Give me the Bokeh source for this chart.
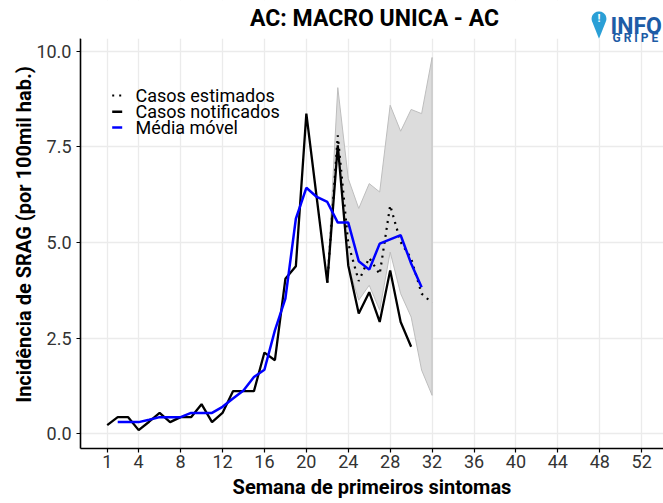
import numpy as np
from bokeh.plotting import figure
from bokeh.models import (Range1d, FixedTicker, PrintfTickFormatter, Label,
                          PolyAnnotation, BoxAnnotation, Arrow)
from bokeh.embed import file_html
from bokeh.resources import INLINE

# ---------------- data ----------------
weeks_notif = list(range(1, 31))
notificados = [0.22, 0.43, 0.43, 0.09, 0.31, 0.54, 0.30, 0.43, 0.43, 0.77,
               0.30, 0.54, 1.11, 1.11, 1.11, 2.12, 1.92, 4.05, 4.38, 8.37,
               6.15, 3.95, 7.54, 4.40, 3.14, 3.70, 2.92, 4.27, 2.92, 2.27]

weeks_mm = list(range(2, 32))
media_movel = [0.30, 0.30, 0.30, 0.36, 0.43, 0.43, 0.43, 0.54, 0.54, 0.54,
               0.70, 0.92, 1.13, 1.48, 1.67, 2.70, 3.53, 5.62, 6.43, 6.19,
               6.06, 5.52, 5.52, 4.51, 4.29, 4.97, 5.08, 5.19, 4.45, 3.83]

weeks_est = list(range(22, 33))
estimados = [3.95, 7.80, 4.97, 3.99, 4.60, 4.17, 5.97, 5.01, 4.58, 3.66, 3.42]
band_upper = [3.95, 9.05, 6.67, 5.89, 6.54, 6.32, 8.59, 7.91, 8.48, 8.37, 9.84]
band_lower = [3.95, 7.54, 4.40, 3.49, 3.88, 3.23, 4.75, 3.66, 3.05, 1.66, 1.00]

x_ticks = [1, 4, 8, 12, 16, 20, 24, 28, 32, 36, 40, 44, 48, 52]
y_ticks = [0, 2.5, 5, 7.5, 10]

title_text = "AC: MACRO UNICA - AC"
x_label = "Semana de primeiros sintomas"
y_label = "Incidência de SRAG (por 100mil hab.)"
legend_labels = ["Casos estimados", "Casos notificados", "Média móvel"]

FONT = "Roboto"
Y_LO, Y_HI = -0.39, 10.33        # panel limits (ggplot expansion)
Y_TOP = 11.33                     # frame extended to hold title / logo

# ---------------- figure ----------------
p = figure(width=663, height=503, output_backend="svg", toolbar_location=None,
           x_range=Range1d(-1.55, 54.08), y_range=Range1d(Y_LO, Y_TOP),
           min_border_left=80, min_border_right=0, min_border_top=0,
           min_border_bottom=55)
p.outline_line_color = None
p.background_fill_color = "white"
p.border_fill_color = "white"

for g in (p.xgrid, p.ygrid):
    g.grid_line_color = "#ebebeb"
    g.grid_line_width = 1.3

p.xaxis.ticker = FixedTicker(ticks=x_ticks)
p.yaxis.ticker = FixedTicker(ticks=y_ticks)
p.yaxis.formatter = PrintfTickFormatter(format="%.1f")
p.yaxis.bounds = (Y_LO, Y_HI)
for ax in (p.xaxis, p.yaxis):
    ax.axis_line_color = "black"
    ax.axis_line_width = 1.6
    ax.major_tick_line_color = "black"
    ax.major_tick_line_width = 1.2
    ax.major_tick_out = 4
    ax.major_tick_in = 0
    ax.minor_tick_line_color = None
    ax.major_label_text_font = FONT
    ax.major_label_text_font_size = "18px"
    ax.major_label_text_color = "#333333"
    ax.axis_label_text_font = FONT
    ax.axis_label_text_font_size = "20px"
    ax.axis_label_text_font_style = "bold"
    ax.axis_label_text_color = "black"
p.xaxis.major_label_standoff = 2
p.yaxis.major_label_standoff = 5
p.xaxis.axis_label = x_label
p.xaxis.axis_label_standoff = 4
# trailing no-break spaces shift the centred label down onto the panel centre
p.yaxis.axis_label = y_label + "\u00a0" * 4
p.yaxis.axis_label_standoff = -3

# ---------------- glyphs ----------------
p.patch(x=weeks_est + weeks_est[::-1], y=band_upper + band_lower[::-1],
        fill_color="#dcdcdc", fill_alpha=1.0, line_color="#bdbdbd", line_width=1)
r_est = p.line(weeks_est, estimados, line_color="black", line_width=2.2,
               line_dash="2 5")
r_not = p.line(weeks_notif, notificados, line_color="black", line_width=2.3)
r_mm = p.line(weeks_mm, media_movel, line_color="#0000ff", line_width=2.5)

# white cover above the panel (title area)
p.add_layout(BoxAnnotation(bottom=Y_HI, fill_color="white", fill_alpha=1,
                           line_alpha=0))

# ---------------- legend (manual, screen units) ----------------
leg_styles = [dict(line_color="black", line_width=2.2, line_dash="2 5"),
              dict(line_color="black", line_width=2.5),
              dict(line_color="#0000ff", line_width=2.5)]
leg_rows = [353, 336.7, 321]
for lab, sty, yy in zip(legend_labels, leg_styles, leg_rows):
    p.add_layout(Arrow(end=None, x_start=31.7, y_start=yy, x_end=41.7, y_end=yy,
                       start_units="screen", end_units="screen", **sty))
    p.add_layout(Label(x=55, y=yy, x_units="screen", y_units="screen", text=lab,
                       text_align="left", text_baseline="middle", text_font=FONT,
                       text_font_size="18px", text_color="black"))

# ---------------- title ----------------
p.add_layout(Label(x=294, y=430, x_units="screen", y_units="screen",
                   text=title_text, text_align="center", text_baseline="middle",
                   text_font=FONT, text_font_size="23px", text_font_style="bold",
                   text_color="black"))

# ---------------- logo ----------------
cx, cy, r, tip = 518.5, 429.7, 7.4, 409.7
d = cy - tip
a = np.degrees(np.arccos(r / d))
angs = np.radians(np.linspace(-90 + a, 270 - a, 40))
px = [cx] + list(cx + r * np.cos(angs)) + [cx]
py = [tip] + list(cy + r * np.sin(angs)) + [tip]
p.add_layout(PolyAnnotation(xs=px, ys=py, xs_units="screen", ys_units="screen",
                            fill_color="#2a9fd6", fill_alpha=1, line_alpha=0))
p.add_layout(Label(x=cx, y=cy, x_units="screen", y_units="screen", text="!",
                   text_align="center", text_baseline="middle", text_font=FONT,
                   text_font_size="11px", text_font_style="bold", text_color="white"))
p.add_layout(Label(x=530, y=422, x_units="screen", y_units="screen", text="INFO",
                   text_align="left", text_baseline="alphabetic", text_font=FONT,
                   text_font_size="23px", text_font_style="bold", text_color="#1d5ca6"))
p.add_layout(Label(x=532, y=410.5, x_units="screen", y_units="screen", text="G R I P E",
                   text_align="left", text_baseline="alphabetic", text_font=FONT,
                   text_font_size="12px", text_font_style="bold", text_color="#1d5ca6"))

open("out.html", "w").write(file_html(p, INLINE))
